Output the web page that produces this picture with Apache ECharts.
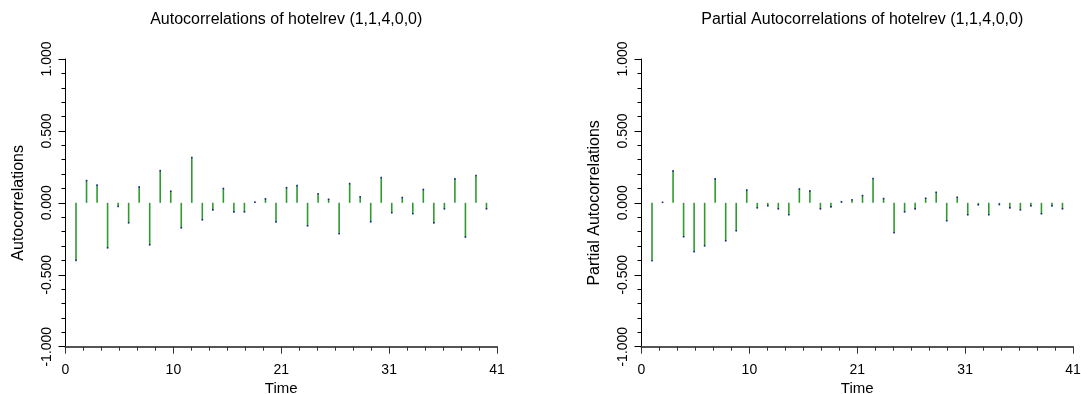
<!DOCTYPE html>
<html>
<head>
<meta charset="utf-8">
<style>
  html, body { margin: 0; padding: 0; background: #fff; }
  #chart { width: 1081px; height: 394px; }
</style>
<script src="https://cdn.jsdelivr.net/npm/echarts@6/dist/echarts.min.js"></script>
</head>
<body>
<div id="chart"></div>
<script>
// lag numbers
const lags = [1, 2, 3, 4, 5, 6, 7, 8, 9, 10, 11, 12, 13, 14, 15, 16, 17, 18, 19, 20,
  21, 22, 23, 24, 25, 26, 27, 28, 29, 30, 31, 32, 33, 34, 35, 36, 37, 38, 39, 40];

// autocorrelations
const acf = [-0.400, 0.155, 0.123, -0.313, -0.025, -0.139, 0.111, -0.292, 0.224, 0.081,
  -0.174, 0.315, -0.118, -0.049, 0.100, -0.063, -0.063, 0.005, 0.028, -0.132,
  0.106, 0.120, -0.160, 0.063, 0.025, -0.215, 0.134, 0.042, -0.132, 0.176,
  -0.069, 0.037, -0.076, 0.093, -0.139, -0.042, 0.167, -0.238, 0.190, -0.042];

// partial autocorrelations
const pacf = [-0.403, 0.004, 0.222, -0.236, -0.340, -0.299, 0.167, -0.264, -0.194, 0.090,
  -0.035, -0.021, -0.042, -0.083, 0.097, 0.083, -0.042, -0.028, 0.008, 0.022,
  0.051, 0.169, 0.030, -0.208, -0.063, -0.042, 0.032, 0.074, -0.125, 0.039,
  -0.083, -0.014, -0.083, -0.012, -0.035, -0.049, -0.021, -0.076, -0.021, -0.042];

const xTickLabels = ['0', '10', '21', '31', '41'];
const titles = ['Autocorrelations of hotelrev (1,1,4,0,0)', 'Partial Autocorrelations of hotelrev (1,1,4,0,0)'];
const yNames = ['Autocorrelations', 'Partial Autocorrelations'];

const FONT = 'Liberation Sans, Arial, sans-serif';
const grids = [
  { left: 65.5, top: 59, width: 431.5, height: 287.7, containLabel: false, outerBoundsMode: 'none' },
  { left: 641.5, top: 59, width: 431.5, height: 287.7, containLabel: false, outerBoundsMode: 'none' }
];

const chart = echarts.init(document.getElementById('chart'));

const xAxis = grids.map((g, i) => ({
  type: 'value',
  gridIndex: i,
  min: 0,
  max: 41,
  interval: 10.25,
  axisLine: { onZero: false, lineStyle: { color: '#555', width: 2 } },
  axisTick: { show: true, length: 7, lineStyle: { color: '#333' } },
  minorTick: { show: true, splitNumber: 6, length: 4, lineStyle: { color: '#333' } },
  splitLine: { show: false },
  axisLabel: {
    color: '#000', fontSize: 14, fontFamily: FONT, margin: 16,
    formatter: v => xTickLabels[Math.round(v / 10.25)]
  },
  name: 'Time',
  nameLocation: 'middle',
  nameGap: 32,
  nameTextStyle: { color: '#000', fontSize: 15, fontFamily: FONT }
}));

const yAxis = grids.map((g, i) => ({
  type: 'value',
  gridIndex: i,
  min: -1,
  max: 1,
  interval: 0.5,
  axisLine: { show: true, onZero: false, lineStyle: { color: '#000' } },
  axisTick: { show: true, length: 7, lineStyle: { color: '#000' } },
  minorTick: { show: true, splitNumber: 5, length: 4, lineStyle: { color: '#000' } },
  splitLine: { show: false },
  axisLabel: {
    rotate: 90, color: '#000', fontSize: 14, fontFamily: FONT, margin: 11,
    formatter: v => v.toFixed(3)
  },
  name: yNames[i],
  nameLocation: 'middle',
  nameRotate: 90,
  nameGap: 39,
  nameTextStyle: { color: '#000', fontSize: 16, fontFamily: FONT }
}));

const seriesFor = (vals, i) => [
  {
    type: 'bar',
    xAxisIndex: i,
    yAxisIndex: i,
    barWidth: 1.6,
    itemStyle: { color: '#2f9a2f' },
    data: lags.map((l, k) => [l, vals[k]]),
    silent: true
  },
  {
    type: 'scatter',
    xAxisIndex: i,
    yAxisIndex: i,
    symbol: 'rect',
    symbolSize: 1.6,
    itemStyle: { color: '#00008b' },
    data: lags.map((l, k) => [l, vals[k]]),
    silent: true
  }
];

chart.setOption({
  animation: false,
  backgroundColor: '#fff',
  title: grids.map((g, i) => ({
    text: titles[i],
    left: g.left + g.width / 2,
    textAlign: 'center',
    top: 7,
    textStyle: { color: '#000', fontSize: 16, fontWeight: 'normal', fontFamily: FONT }
  })),
  grid: grids,
  xAxis: xAxis,
  yAxis: yAxis,
  series: [...seriesFor(acf, 0), ...seriesFor(pacf, 1)]
});
</script>
</body>
</html>
